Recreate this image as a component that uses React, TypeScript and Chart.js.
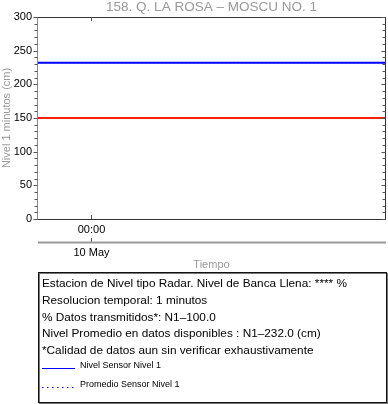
import React, { useEffect, useRef } from "react";
import { Chart, registerables } from "chart.js";
Chart.register(...registerables);

const TITLE = "158. Q. LA ROSA – MOSCU NO. 1";
const Y_LABEL = "Nivel 1 minutos (cm)";
const X_LABEL = "Tiempo";
// minutes relative to 10 May 00:00
const TIME_MIN = [-53, 294];
const NIVEL = [232, 232];
const PROMEDIO = [232, 232];
const BANCA = [150, 150];
const Y_MIN = 0;
const Y_MAX = 300;
const Y_MAJOR = [0, 50, 100, 150, 200, 250, 300];
const Y_MINOR_STEP = 10;
const X_TICK_VALUES = [0];
const X_TICK_LABELS = ["00:00"];
const DATE_LABELS = ["10 May"];
const INFO_LINES = [
  "Estacion de Nivel tipo Radar. Nivel de Banca Llena: **** %",
  "Resolucion temporal: 1 minutos",
  "% Datos transmitidos*: N1–100.0",
  "Nivel Promedio en datos disponibles : N1–232.0 (cm)",
  "*Calidad de datos aun sin verificar exhaustivamente",
];
const LEGEND_LABELS = ["Nivel Sensor Nivel 1", "Promedio Sensor Nivel 1"];

const FONT = "'Liberation Sans', Arial, Helvetica, sans-serif";

const decorPlugin = {
  id: "decor",
  afterDraw(chart: any) {
    const ctx = chart.ctx as CanvasRenderingContext2D;
    const { left, right, top, bottom } = chart.chartArea;
    const xs = chart.scales.x;
    const ys = chart.scales.y;
    ctx.save();

    // frame
    ctx.lineWidth = 1;
    ctx.strokeStyle = "#333";
    ctx.beginPath();
    ctx.moveTo(left, top + 0.5);
    ctx.lineTo(right, top + 0.5);
    ctx.moveTo(left, bottom + 0.5);
    ctx.lineTo(right + 1, bottom + 0.5);
    ctx.moveTo(right + 0.5, top);
    ctx.lineTo(right + 0.5, bottom + 1);
    ctx.stroke();
    ctx.strokeStyle = "#888";
    ctx.beginPath();
    ctx.moveTo(left - 0.5, top);
    ctx.lineTo(left - 0.5, bottom + 1);
    ctx.stroke();

    // y ticks
    ctx.strokeStyle = "#555";
    for (let v = Y_MIN; v <= Y_MAX; v += Y_MINOR_STEP) {
      const py = Math.round(ys.getPixelForValue(v)) + 0.5;
      const major = Y_MAJOR.includes(v);
      const len = major ? 4 : 3;
      ctx.beginPath();
      ctx.moveTo(left - 0.5 - len, py);
      ctx.lineTo(left - 0.5, py);
      ctx.moveTo(right + 0.5, py);
      ctx.lineTo(right + 0.5 - len, py);
      ctx.stroke();
    }
    ctx.fillStyle = "#000";
    ctx.font = `11px ${FONT}`;
    ctx.textAlign = "right";
    ctx.textBaseline = "middle";
    Y_MAJOR.forEach((v) => {
      ctx.fillText(String(v), left - 6, ys.getPixelForValue(v));
    });

    // x ticks
    const axis2 = bottom + 23;
    ctx.strokeStyle = "#555";
    X_TICK_VALUES.forEach((v, i) => {
      const px = Math.round(xs.getPixelForValue(v)) + 0.5;
      ctx.beginPath();
      ctx.moveTo(px, top);
      ctx.lineTo(px, top + 4);
      ctx.moveTo(px, bottom);
      ctx.lineTo(px, bottom - 4);
      ctx.moveTo(px, axis2);
      ctx.lineTo(px, axis2 - 4);
      ctx.stroke();
      ctx.fillStyle = "#000";
      ctx.textAlign = "center";
      ctx.fillText(X_TICK_LABELS[i], px, bottom + 11);
      ctx.fillText(DATE_LABELS[i], px, axis2 + 11);
    });
    // second (date) axis line
    ctx.strokeStyle = "#999";
    ctx.lineWidth = 2;
    ctx.beginPath();
    ctx.moveTo(left, axis2 + 0.5);
    ctx.lineTo(right + 1, axis2 + 0.5);
    ctx.stroke();

    // titles
    ctx.fillStyle = "#999";
    ctx.textAlign = "center";
    ctx.font = `13.5px ${FONT}`;
    ctx.fillText(TITLE, (left + right) / 2, 7);
    ctx.font = `11px ${FONT}`;
    ctx.fillText(X_LABEL, (left + right) / 2, 265);
    ctx.save();
    ctx.translate(7, (top + bottom) / 2);
    ctx.rotate(-Math.PI / 2);
    ctx.fillText(Y_LABEL, 0, 0);
    ctx.restore();

    // info box
    const bx = 38, by = 272, bw = 349, bh = 131;
    ctx.strokeStyle = "#777";
    ctx.lineWidth = 1;
    ctx.strokeRect(bx + 1.5, by + 1.5, bw - 1, bh - 1);
    ctx.strokeStyle = "#111";
    ctx.strokeRect(bx + 0.5, by + 0.5, bw - 1, bh - 1);
    ctx.fillStyle = "#000";
    ctx.textAlign = "left";
    ctx.font = `11.8px ${FONT}`;
    INFO_LINES.forEach((t, i) => {
      ctx.fillText(t, 42, 284 + i * 16.7);
    });
    const ds = chart.data.datasets;
    const legendDs = [ds[0], ds[1]];
    ctx.font = `9px ${FONT}`;
    legendDs.forEach((d: any, i: number) => {
      const ly = 368 + i * 19;
      ctx.strokeStyle = d.borderColor;
      ctx.lineWidth = 1;
      ctx.setLineDash(d.borderDash ? [1.5, 3.5] : []);
      ctx.beginPath();
      ctx.moveTo(42, ly + 0.5);
      ctx.lineTo(75, ly + 0.5);
      ctx.stroke();
      ctx.setLineDash([]);
      ctx.fillStyle = "#000";
      ctx.fillText(LEGEND_LABELS[i], 80, ly - 2);
    });

    ctx.restore();
  },
};

export default function App() {
  const ref = useRef<HTMLCanvasElement | null>(null);
  useEffect(() => {
    if (!ref.current) return;
    const chart = new Chart(ref.current, {
      type: "line",
      data: {
        datasets: [
          {
            label: LEGEND_LABELS[0],
            data: TIME_MIN.map((t, i) => ({ x: t, y: NIVEL[i] })),
            borderColor: "#0000ff",
            borderWidth: 2,
            pointRadius: 0,
            order: 1,
          },
          {
            label: LEGEND_LABELS[1],
            data: TIME_MIN.map((t, i) => ({ x: t, y: PROMEDIO[i] })),
            borderColor: "#0000ff",
            borderWidth: 1,
            borderDash: [1, 3],
            pointRadius: 0,
            order: 0,
          },
          {
            label: "Banca Llena",
            data: TIME_MIN.map((t, i) => ({ x: t, y: BANCA[i] })),
            borderColor: "#ff2200",
            borderWidth: 2,
            pointRadius: 0,
            order: 2,
          },
        ],
      },
      options: {
        responsive: false,
        animation: false,
        layout: { padding: { left: 38, top: 17, right: 3, bottom: 185 } },
        plugins: { legend: { display: false }, tooltip: { enabled: false }, title: { display: false } },
        scales: {
          x: { type: "linear", min: TIME_MIN[0], max: TIME_MIN[TIME_MIN.length - 1], display: false },
          y: { type: "linear", min: Y_MIN, max: Y_MAX, display: false },
        },
      },
      plugins: [decorPlugin],
    });
    return () => chart.destroy();
  }, []);
  return (
    <div style={{ position: "fixed", left: 0, top: 0, width: 388, height: 404, background: "#fff" }}>
      <canvas ref={ref} width={388} height={404} style={{ width: 388, height: 404 }} />
    </div>
  );
}
